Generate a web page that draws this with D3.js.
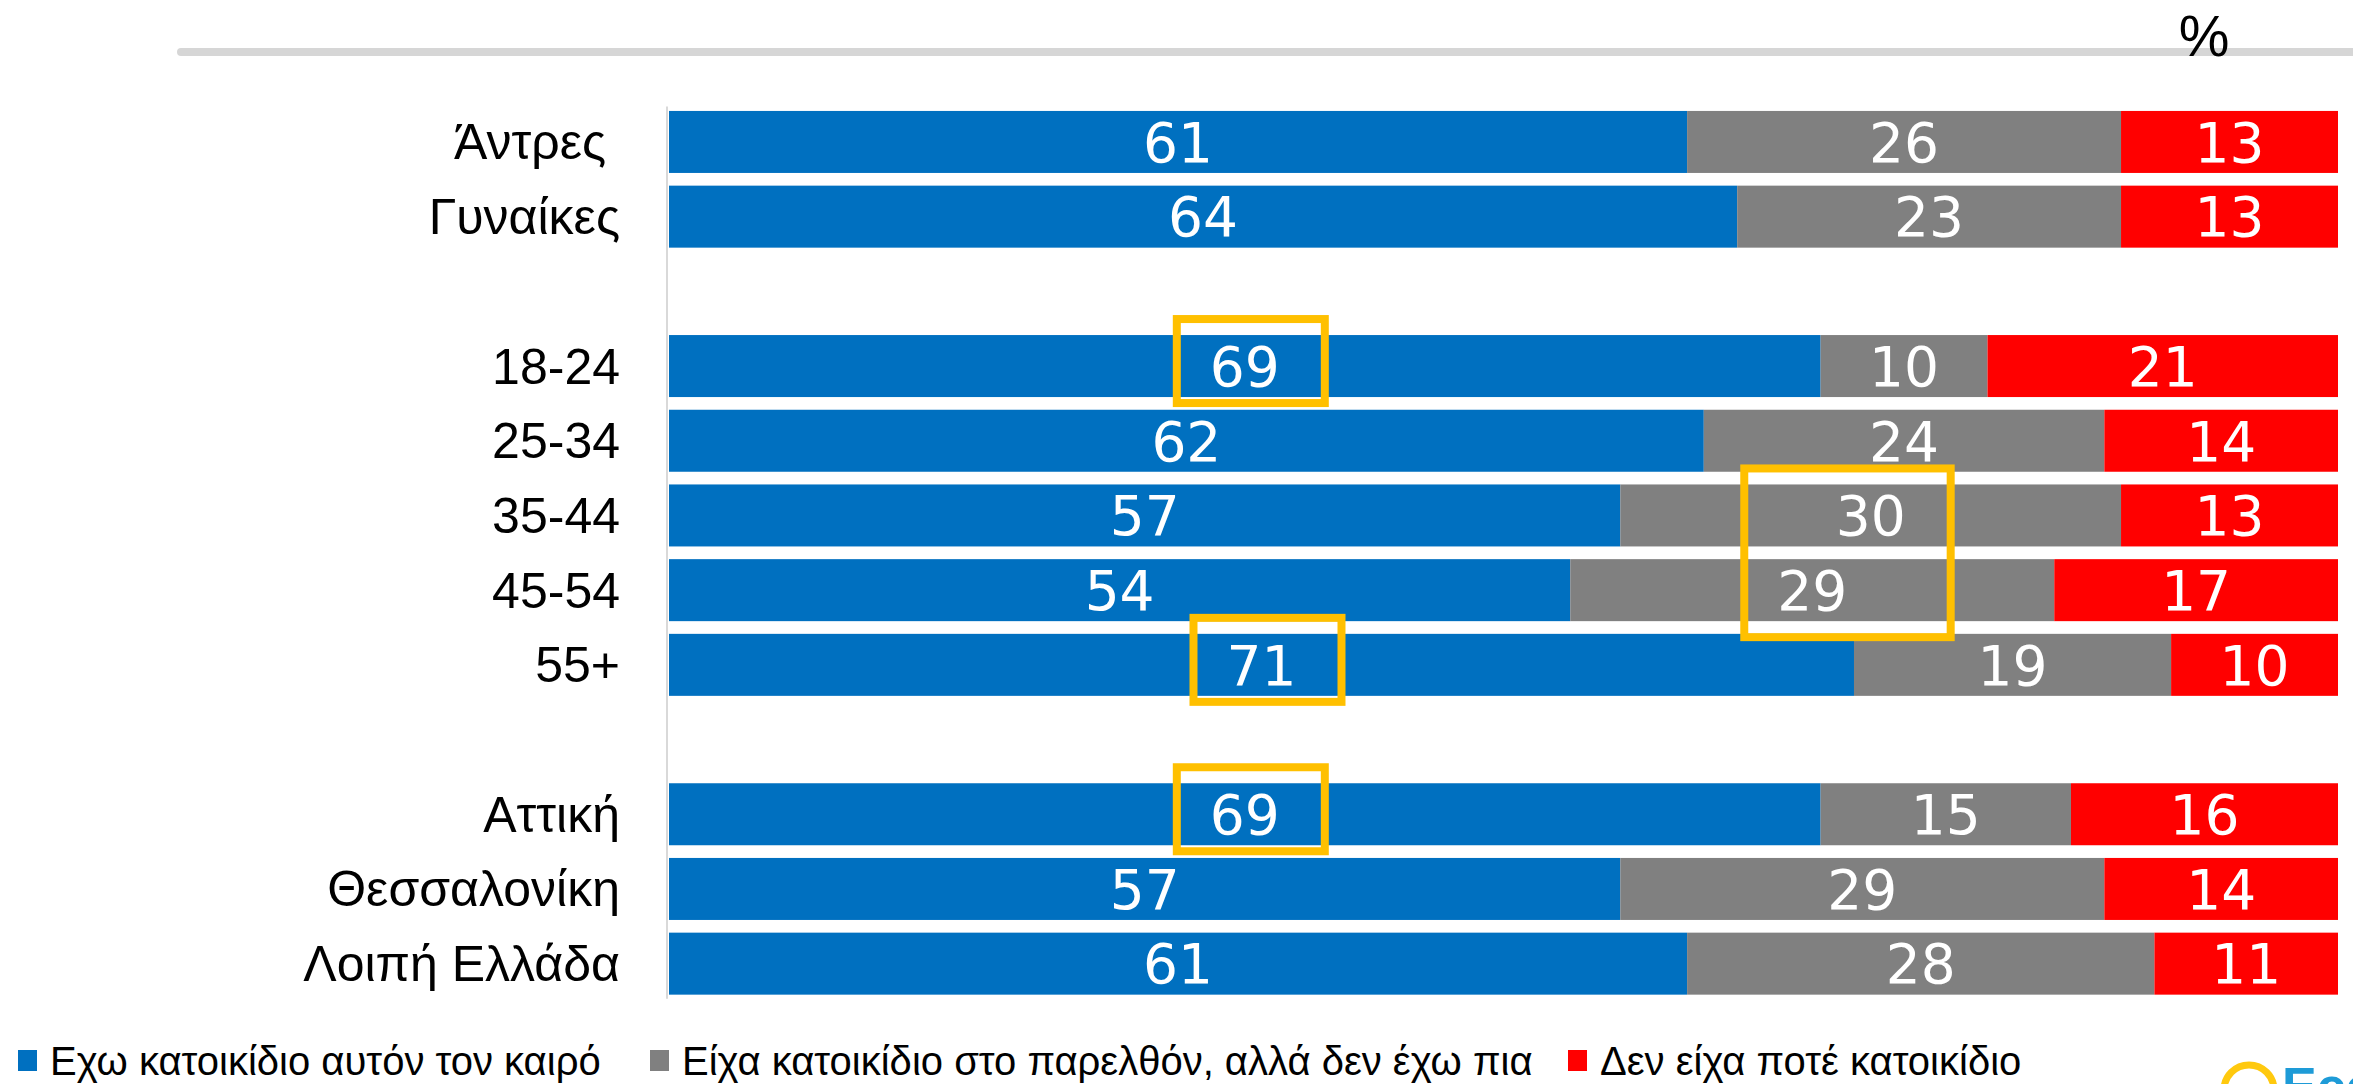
<!DOCTYPE html>
<html>
<head>
<meta charset="utf-8">
<script src="https://cdn.jsdelivr.net/npm/d3@7"></script>
<style>
  html, body { margin: 0; padding: 0; background: #fff; }
  svg { display: block; }
</style>
</head>
<body>
<div id="chart"></div>
<script>
const dimensions = { width: 2353, height: 1084 };
const margin = { left: 669, right: 15, top: 104.6, bottom: 83 };

// data
const categories = ["Άντρες ", "Γυναίκες", "18-24", "25-34", "35-44", "45-54", "55+", "Αττική", "Θεσσαλονίκη", "Λοιπή Ελλάδα"];
const groupEnds = ["Γυναίκες", "55+"]; // an empty row follows these
const seriesNames = ["Εχω κατοικίδιο αυτόν τον καιρό", "Είχα κατοικίδιο στο παρελθόν, αλλά δεν έχω πια", "Δεν είχα ποτέ κατοικίδιο"];
const haveNow = [61, 64, 69, 62, 57, 54, 71, 69, 57, 61];
const hadBefore = [26, 23, 10, 24, 30, 29, 19, 15, 29, 28];
const never = [13, 13, 21, 14, 13, 17, 10, 16, 14, 11];
const colors = ["#0070C0", "#808080", "#FF0000"];
const highlights = [
  { rows: ["18-24"], series: 0 },
  { rows: ["55+"], series: 0 },
  { rows: ["35-44", "45-54"], series: 1 },
  { rows: ["Αττική"], series: 0 },
];

const svg = d3.select("#chart")
  .append("svg")
  .attr("width", dimensions.width)
  .attr("height", dimensions.height);

// row keys with blank spacer rows between groups
const rows = [];
categories.forEach((c) => {
  rows.push(c);
  if (groupEnds.includes(c)) rows.push("__gap_" + c);
});

const y = d3.scaleBand()
  .domain(rows)
  .range([margin.top, dimensions.height - margin.bottom])
  .paddingInner(0.17)
  .paddingOuter(0.085);

const x = d3.scaleLinear()
  .domain([0, 100])
  .range([margin.left, dimensions.width - margin.right]);

const table = categories.map((c, i) => ({
  cat: c, s0: haveNow[i], s1: hadBefore[i], s2: never[i],
}));
const stacked = d3.stack().keys(["s0", "s1", "s2"])(table);

// top grey rule
svg.append("line")
  .attr("x1", 181).attr("x2", dimensions.width + 10)
  .attr("y1", 52).attr("y2", 52)
  .attr("stroke", "#d6d6d6")
  .attr("stroke-width", 8)
  .attr("stroke-linecap", "round");

svg.append("text")
  .attr("x", 2204).attr("y", 56)
  .attr("text-anchor", "middle")
  .attr("font-family", "Liberation Sans, Arial, sans-serif")
  .attr("font-size", 57)
  .text("%");

// vertical axis line
svg.append("line")
  .attr("x1", margin.left - 2).attr("x2", margin.left - 2)
  .attr("y1", margin.top + 2).attr("y2", y(categories[categories.length - 1]) + y.bandwidth() + 4)
  .attr("stroke", "#d9d9d9")
  .attr("stroke-width", 2);

// bars
const layers = svg.selectAll("g.layer")
  .data(stacked)
  .enter()
  .append("g")
  .attr("class", "layer")
  .attr("fill", (d, i) => colors[i]);

layers.selectAll("rect")
  .data((d) => d)
  .enter()
  .append("rect")
  .attr("x", (d) => x(d[0]))
  .attr("y", (d) => y(d.data.cat))
  .attr("width", (d) => x(d[1]) - x(d[0]))
  .attr("height", y.bandwidth());

// value labels
layers.selectAll("text")
  .data((d) => d)
  .enter()
  .append("text")
  .attr("x", (d) => (x(d[0]) + x(d[1])) / 2)
  .attr("y", (d) => y(d.data.cat) + y.bandwidth() / 2)
  .attr("dy", "0.36em")
  .attr("text-anchor", "middle")
  .attr("font-family", "DejaVu Sans, Verdana, sans-serif")
  .attr("font-size", 55)
  .attr("fill", "white")
  .text((d) => d[1] - d[0]);

// category labels
svg.append("g")
  .selectAll("text")
  .data(categories)
  .enter()
  .append("text")
  .attr("x", 620)
  .attr("y", (d) => y(d) + y.bandwidth() / 2)
  .attr("dy", "0.35em")
  .attr("text-anchor", "end")
  .attr("font-family", "Liberation Sans, Arial, sans-serif")
  .attr("font-size", 50)
  .style("white-space", "pre")
  .text((d) => d);

// yellow highlight boxes
svg.append("g")
  .selectAll("rect")
  .data(highlights)
  .enter()
  .append("rect")
  .each(function (h) {
    const centers = h.rows.map((r) => {
      const seg = stacked[h.series].find((d) => d.data.cat === r);
      return (x(seg[0]) + x(seg[1])) / 2;
    });
    const tops = h.rows.map((r) => y(r));
    const x0 = d3.min(centers) - 68;
    const x1 = d3.max(centers) + 80;
    const y0 = d3.min(tops) - 16;
    const y1 = d3.max(tops) + y.bandwidth() + (h.rows.length > 1 ? 16 : 6);
    d3.select(this)
      .attr("x", x0).attr("y", y0)
      .attr("width", x1 - x0).attr("height", y1 - y0);
  })
  .attr("fill", "none")
  .attr("stroke", "#FFC000")
  .attr("stroke-width", 8);

// legend
const legendX = [18, 650, 1568];
const legend = svg.append("g")
  .selectAll("g")
  .data(seriesNames)
  .enter()
  .append("g")
  .attr("transform", (d, i) => `translate(${legendX[i]}, 1061)`);

legend.append("rect")
  .attr("x", 0).attr("y", -11)
  .attr("width", 19).attr("height", 21)
  .attr("fill", (d, i) => colors[i]);

legend.append("text")
  .attr("x", 32)
  .attr("y", 0)
  .attr("dy", "0.35em")
  .attr("font-family", "Liberation Sans, Arial, sans-serif")
  .attr("font-size", 40)
  .text((d) => d);

// cut-off logo in the corner
svg.append("circle")
  .attr("cx", 2249).attr("cy", 1090)
  .attr("r", 25)
  .attr("fill", "none")
  .attr("stroke", "#FFC90E")
  .attr("stroke-width", 7);

svg.append("text")
  .attr("x", 2282).attr("y", 1104)
  .attr("font-family", "Liberation Sans, Arial, sans-serif")
  .attr("font-weight", "bold")
  .attr("font-size", 52)
  .attr("fill", "#1E9BD7")
  .text("Ecc");
</script>
</body>
</html>
